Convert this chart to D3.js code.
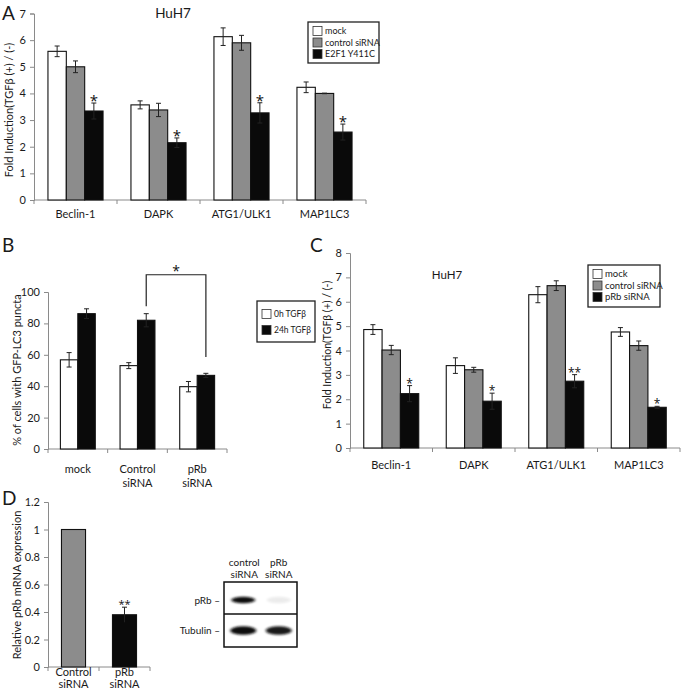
<!DOCTYPE html>
<html><head><meta charset="utf-8">
<script src="https://cdn.jsdelivr.net/npm/d3@7"></script>
<style>
html,body{margin:0;padding:0;background:#fff;}
text{font-family:Lato,"Open Sans",sans-serif;fill:#1a1a1a;}
text.star{font-family:"Open Sans",sans-serif;fill:#111;}
</style></head>
<body><svg id="fig" width="683" height="690"></svg>
<script>
// ---------- DATA ----------
// Panel A
const aGenes = ["Beclin-1","DAPK","ATG1/ULK1","MAP1LC3"];
const aSeries = ["mock","control siRNA","E2F1 Y411C"];
const aMock = [5.58, 3.57, 6.13, 4.23];
const aMockErr = [0.2, 0.15, 0.33, 0.2];
const aCtrl = [5.0, 3.38, 5.9, 4.0];
const aCtrlErr = [0.22, 0.25, 0.28, 0.01];
const aE2f1 = [3.34, 2.15, 3.27, 2.55];
const aE2f1Err = [0.3, 0.18, 0.38, 0.3];
const aStars = ["*","*","*","*"];
const aTicks = [0,1,2,3,4,5,6,7];
// Panel B
const bGroups = [["mock"],["Control","siRNA"],["pRb","siRNA"]];
const bSeries = ["0h TGF\u03b2","24h TGF\u03b2"];
const b0h = [56.8, 53.1, 39.7];
const b0hErr = [4.6, 1.9, 3.3];
const b24h = [86.2, 82.0, 46.9];
const b24hErr = [3.1, 4.2, 1.3];
const bTicks = [0,20,40,60,80,100];
const bBracket = [91, 111, 58.6]; // left foot, top, right foot (value units)
// Panel C
const cGenes = ["Beclin-1","DAPK","ATG1/ULK1","MAP1LC3"];
const cSeries = ["mock","control siRNA","pRb siRNA"];
const cMock = [4.86, 3.38, 6.29, 4.76];
const cMockErr = [0.2, 0.32, 0.33, 0.18];
const cCtrl = [4.02, 3.21, 6.66, 4.2];
const cCtrlErr = [0.19, 0.1, 0.2, 0.19];
const cPrb = [2.23, 1.92, 2.74, 1.67];
const cPrbErr = [0.33, 0.33, 0.27, 0.04];
const cStars = ["*","*","**","*"];
const cTicks = [0,1,2,3,4,5,6,7,8];
// Panel D
const dGroups = [["Control","siRNA"],["pRb","siRNA"]];
const dVals = [1.0, 0.38];
const dErr = [0, 0.055];
const dStars = ["", "**"];
const dTicks = [0,0.2,0.4,0.6,0.8,1,1.2];
// Western blot
const wbLanes = [["control","siRNA"],["pRb","siRNA"]];
const wbRows = ["pRb","Tubulin"];
const wbIntensity = [[1.0, 0.08],[1.0, 0.95]];

// ---------- DRAWING ----------
const svg = d3.select("#fig");
const FILLS = ["#ffffff","#8c8c8c","#0a0a0a"];
const AXIS = "#8a8a8a";
const FONT = 'Lato,"Open Sans",sans-serif';

function panelLabel(t,x,y){
  svg.append("text").attr("x",x).attr("y",y).attr("font-size",19).text(t);
}

function yAxis(g, y, x0, ticks, fmt, fs){
  const ax = d3.axisLeft(y).tickValues(ticks).tickSize(4).tickPadding(4).tickFormat(fmt||(d=>d));
  const a = g.append("g").attr("transform",`translate(${x0},0)`).call(ax);
  a.select(".domain").attr("stroke",AXIS);
  a.selectAll(".tick line").attr("stroke",AXIS);
  a.selectAll(".tick text").attr("font-size",fs).attr("fill","#1a1a1a").attr("font-family",FONT);
  return a;
}

function xAxis(g, xb, y0){
  const r = xb.range();
  g.append("line").attr("x1",r[0]).attr("x2",r[1]).attr("y1",y0).attr("y2",y0).attr("stroke",AXIS);
  const bounds = xb.domain().map(d=>xb(d)).concat([r[1]]);
  g.selectAll(null).data(bounds).enter().append("line")
    .attr("x1",d=>d).attr("x2",d=>d).attr("y1",y0).attr("y2",y0+4).attr("stroke",AXIS);
}

function bars(g, xb, xs, y, seriesVals, seriesErr){
  seriesVals.forEach((vals,si)=>{
    const key = xs.domain()[si];
    g.selectAll(null).data(vals).enter().append("rect")
      .attr("x",(d,i)=>xb(xb.domain()[i])+xs(key))
      .attr("y",d=>y(d))
      .attr("width",xs.bandwidth())
      .attr("height",d=>y(0)-y(d))
      .attr("fill",FILLS[seriesVals.length===2 ? (si===0?0:2) : si])
      .attr("stroke","#111").attr("stroke-width",1.1);
  });
  seriesVals.forEach((vals,si)=>{
    const key = xs.domain()[si];
    const errs = seriesErr[si];
    vals.forEach((v,i)=>{
      const e = errs[i];
      if(!e) return;
      const cx = xb(xb.domain()[i])+xs(key)+xs.bandwidth()/2;
      const col = "#222";
      g.append("line").attr("x1",cx).attr("x2",cx).attr("y1",y(v+e)).attr("y2",y(v-e)).attr("stroke",col).attr("stroke-width",1);
      g.append("line").attr("x1",cx-2.5).attr("x2",cx+2.5).attr("y1",y(v+e)).attr("y2",y(v+e)).attr("stroke",col).attr("stroke-width",1);
      g.append("line").attr("x1",cx-2.5).attr("x2",cx+2.5).attr("y1",y(v-e)).attr("y2",y(v-e)).attr("stroke",col).attr("stroke-width",1);
    });
  });
}

function stars(g, xb, xs, key, y, vals, errs, labels, fs, off){
  vals.forEach((v,i)=>{
    if(!labels[i]) return;
    const cx = xb(xb.domain()[i])+xs(key)+xs.bandwidth()/2;
    g.append("text").attr("class","star").attr("x",cx).attr("y",y(v+errs[i])+off).attr("text-anchor","middle")
      .attr("font-size",fs).text(labels[i]);
  });
}

function legend(g, x, y, w, h, names, fills, fs, rowH, sw, top){
  g.append("rect").attr("x",x).attr("y",y).attr("width",w).attr("height",h)
    .attr("fill","#fff").attr("stroke","#222").attr("stroke-width",1.3);
  names.forEach((n,i)=>{
    const cy = y + top + i*rowH;
    g.append("rect").attr("x",x+5).attr("y",cy-sw/2).attr("width",sw).attr("height",sw)
      .attr("fill",fills[i]).attr("stroke","#333").attr("stroke-width",0.8);
    g.append("text").attr("x",x+5+sw+3).attr("y",cy+fs*0.36).attr("font-size",fs).text(n);
  });
}

function rotLabel(g, x, cy, t, fs){
  g.append("text").attr("transform",`translate(${x},${cy}) rotate(-90)`)
    .attr("text-anchor","middle").attr("font-size",fs).text(t);
}

// ===== Panel A =====
(function(){
  const g = svg.append("g");
  const y = d3.scaleLinear().domain([0,7]).range([200,13.5]);
  const xb = d3.scaleBand().domain(aGenes).range([34,366]);
  const xs = d3.scaleBand().domain(aSeries).range([0,xb.bandwidth()]).paddingInner(0).paddingOuter(0.76);
  yAxis(g,y,34,aTicks,null,11);
  xAxis(g,xb,200);
  bars(g,xb,xs,y,[aMock,aCtrl,aE2f1],[aMockErr,aCtrlErr,aE2f1Err]);
  stars(g,xb,xs,aSeries[2],y,aE2f1,aE2f1Err,aStars,15,3);
  g.selectAll(null).data(aGenes).enter().append("text")
    .attr("x",d=>xb(d)+xb.bandwidth()/2).attr("y",218).attr("text-anchor","middle")
    .attr("font-size",11).text(d=>d);
  rotLabel(g,13,110,"Fold Induction(TGF\u03b2 (+) / (-)",11);
  g.append("text").attr("x",173).attr("y",18).attr("text-anchor","middle").attr("font-size",13.5).text("HuH7");
  legend(g,308,22,71,41,aSeries,FILLS,9,11.5,9,9);
  panelLabel("A",2,20);
})();

// ===== Panel B =====
(function(){
  const g = svg.append("g");
  const y = d3.scaleLinear().domain([0,100]).range([449,292]);
  const keys = bGroups.map(d=>d.join(" "));
  const xb = d3.scaleBand().domain(keys).range([48,227]);
  const xs = d3.scaleBand().domain(bSeries).range([0,xb.bandwidth()]).paddingInner(0).paddingOuter(0.71);
  yAxis(g,y,48,bTicks,null,11);
  xAxis(g,xb,449);
  bars(g,xb,xs,y,[b0h,b24h],[b0hErr,b24hErr]);
  bGroups.forEach((lines,i)=>{
    lines.forEach((l,j)=>{
      g.append("text").attr("x",xb(keys[i])+xb.bandwidth()/2).attr("y",473+j*14)
        .attr("text-anchor","middle").attr("font-size",11).text(l);
    });
  });
  const xl = xb(keys[1])+xs(bSeries[1])+xs.bandwidth()/2;
  const xr = xb(keys[2])+xs(bSeries[1])+xs.bandwidth()/2;
  g.append("path").attr("d",`M${xl},${y(bBracket[0])}V${y(bBracket[1])}H${xr}V${y(bBracket[2])}`)
    .attr("fill","none").attr("stroke","#222").attr("stroke-width",1.2);
  g.append("text").attr("class","star").attr("x",(xl+xr)/2).attr("y",y(bBracket[1])+1).attr("text-anchor","middle").attr("font-size",14).text("*");
  rotLabel(g,21,370,"% of cells with GFP-LC3 puncta",11);
  legend(g,257,301,58,41,bSeries,[FILLS[0],FILLS[2]],8.5,16,9,13);
  panelLabel("B",2,252);
})();

// ===== Panel C =====
(function(){
  const g = svg.append("g");
  const y = d3.scaleLinear().domain([0,8]).range([448,253]);
  const xb = d3.scaleBand().domain(cGenes).range([350,680]);
  const xs = d3.scaleBand().domain(cSeries).range([0,xb.bandwidth()]).paddingInner(0).paddingOuter(0.75);
  yAxis(g,y,350,cTicks,null,11);
  xAxis(g,xb,448);
  bars(g,xb,xs,y,[cMock,cCtrl,cPrb],[cMockErr,cCtrlErr,cPrbErr]);
  stars(g,xb,xs,cSeries[2],y,cPrb,cPrbErr,cStars,12,2);
  g.selectAll(null).data(cGenes).enter().append("text")
    .attr("x",d=>xb(d)+xb.bandwidth()/2).attr("y",469).attr("text-anchor","middle")
    .attr("font-size",11).text(d=>d);
  rotLabel(g,331,345,"Fold Induction(TGF\u03b2 (+) / (-)",10.5);
  g.append("text").attr("x",447).attr("y",279).attr("text-anchor","middle").attr("font-size",11.5).text("HuH7");
  legend(g,588,265,72,42,cSeries,FILLS,9.5,11.5,9,9);
  panelLabel("C",310,252);
})();

// ===== Panel D =====
(function(){
  const g = svg.append("g");
  const y = d3.scaleLinear().domain([0,1.2]).range([667,502]);
  const keys = dGroups.map(d=>d.join(" "));
  const xb = d3.scaleBand().domain(keys).range([48,150]);
  const xs = d3.scaleBand().domain(["v"]).range([0,xb.bandwidth()]).paddingInner(0).paddingOuter(0.56);
  yAxis(g,y,48,dTicks,d=>d,11);
  xAxis(g,xb,667);
  dVals.forEach((v,i)=>{
    g.append("rect").attr("x",xb(keys[i])+xs("v")).attr("y",y(v)).attr("width",xs.bandwidth())
      .attr("height",y(0)-y(v)).attr("fill",i===0?FILLS[1]:FILLS[2]).attr("stroke","#111").attr("stroke-width",1.1);
    const cx = xb(keys[i])+xs("v")+xs.bandwidth()/2;
    if(dErr[i]){
      g.append("line").attr("x1",cx).attr("x2",cx).attr("y1",y(v+dErr[i])).attr("y2",y(v-dErr[i])).attr("stroke","#222");
      g.append("line").attr("x1",cx-2.5).attr("x2",cx+2.5).attr("y1",y(v+dErr[i])).attr("y2",y(v+dErr[i])).attr("stroke","#222");
    }
    if(dStars[i]){
      g.append("text").attr("class","star").attr("x",cx).attr("y",y(v+dErr[i])+1).attr("text-anchor","middle").attr("font-size",11).text(dStars[i]);
    }
  });
  dGroups.forEach((lines,i)=>{
    lines.forEach((l,j)=>{
      g.append("text").attr("x",xb(keys[i])+xb.bandwidth()/2).attr("y",676+j*12)
        .attr("text-anchor","middle").attr("font-size",11).text(l);
    });
  });
  rotLabel(g,21,585,"Relative pRb mRNA expression",11);
  panelLabel("D",2,505);

  // Western blot
  const wb = svg.append("g");
  const defs = svg.append("defs");
  defs.append("filter").attr("id","blur").attr("x","-50%").attr("y","-150%").attr("width","200%").attr("height","400%")
    .append("feGaussianBlur").attr("stdDeviation","1.8 1.3");
  const bx0 = 224, bx1 = 297, by0 = 582, bmid = 614, by1 = 647;
  const lane = d3.scaleBand().domain([0,1]).range([bx0,bx1]);
  wbLanes.forEach((lines,i)=>{
    lines.forEach((l,j)=>{
      wb.append("text").attr("x",lane(i)+lane.bandwidth()/2+(i===0?2:0)).attr("y",566+j*12)
        .attr("text-anchor","middle").attr("font-size",10).attr("fill","#1a1a1a").text(l);
    });
  });
  const rowY = [[by0,bmid],[bmid,by1]];
  wbRows.forEach((r,ri)=>{
    const cy = (rowY[ri][0]+rowY[ri][1])/2 + (ri===0?2:0);
    wbIntensity[ri].forEach((v,li)=>{
      const cx = lane(li)+lane.bandwidth()/2 + (li===0?1:0);
      wb.append("ellipse").attr("cx",cx).attr("cy",cy).attr("rx",ri===0?12:13).attr("ry",ri===0?3.3:4.3)
        .attr("fill","#111").attr("opacity",v)
        .attr("filter","url(#blur)");
    });
    wb.append("text").attr("x",220).attr("y",cy+3.5).attr("text-anchor","end").attr("font-size",10)
      .attr("fill","#1a1a1a").text(r+" \u2013");
  });
  wb.append("rect").attr("x",bx0).attr("y",by0).attr("width",bx1-bx0).attr("height",by1-by0)
    .attr("fill","none").attr("stroke","#111").attr("stroke-width",1.5);
  wb.append("line").attr("x1",bx0).attr("x2",bx1).attr("y1",bmid).attr("y2",bmid).attr("stroke","#111").attr("stroke-width",1.5);
})();
</script></body></html>
